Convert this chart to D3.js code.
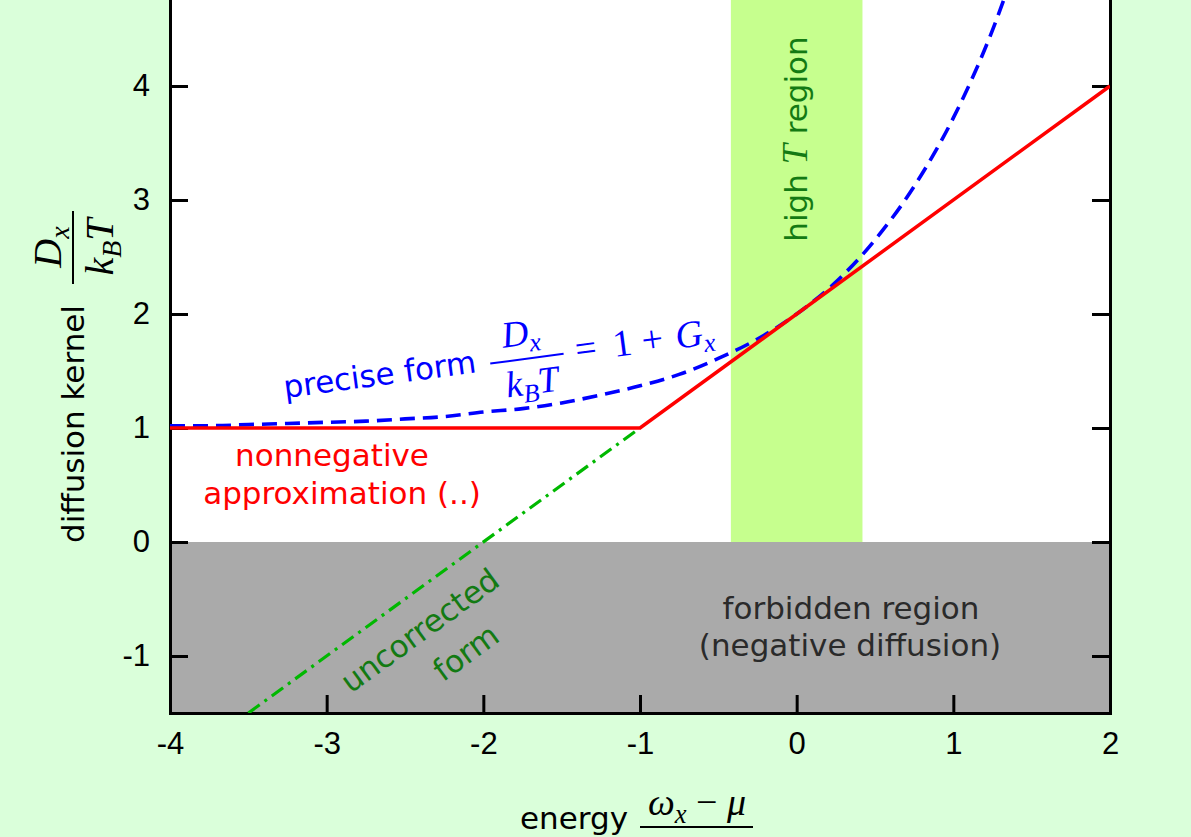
<!DOCTYPE html>
<html>
<head>
<meta charset="utf-8">
<script src="https://cdn.jsdelivr.net/npm/d3@7"></script>
<style>
body { margin: 0; background: #daffda; }
svg { display: block; }
.lbl { font-family: "DejaVu Sans", sans-serif; font-size: 31px; }
.math { font-family: "Liberation Serif", serif; font-style: italic; }
.up { font-family: "Liberation Serif", serif; font-style: normal; }
.axis text { font-family: "Liberation Sans", Arial, sans-serif; font-size: 31px; fill: #000; }
.axis path, .axis line { stroke: #000; stroke-width: 3; }
</style>
</head>
<body>
<svg width="1191" height="837"></svg>
<script>
// tick values
var xTicks = [-4, -3, -2, -1, 0, 1, 2];
var yTicks = [-1, 0, 1, 2, 3, 4];

// precise form (blue dashed)
var preciseX = [-4, -3.75, -3.5, -3.25, -3, -2.75, -2.5, -2.25, -2, -1.75, -1.5, -1.25,
                -1, -0.75, -0.5, -0.25, 0, 0.25, 0.5, 0.75, 1, 1.25, 1.5];
var preciseY = [1.02, 1.02, 1.03, 1.04, 1.05, 1.06, 1.08, 1.1, 1.14, 1.17, 1.22, 1.29,
                1.37, 1.47, 1.61, 1.78, 2.0, 2.28, 2.65, 3.12, 3.72, 4.49, 5.48];

// nonnegative approximation (red)
var approxX = [-4, -1, 2];
var approxY = [1, 1, 4];

// uncorrected form (green dash-dot)
var uncorrX = [-3.5, -1];
var uncorrY = [-1.5, 1];

// shaded regions
var forbiddenY = [-1.5, 0];
var highTX = [-0.42, 0.42];
var highTY = [0, 5];

var svg = d3.select('svg');
var svgWidth = +svg.attr('width');
var svgHeight = +svg.attr('height');

var padding = {t: -28, r: 81, b: 124, l: 170};
var chartWidth = svgWidth - padding.l - padding.r;
var chartHeight = svgHeight - padding.t - padding.b;

var xScale = d3.scaleLinear().domain([-4, 2]).range([0, chartWidth]);
var yScale = d3.scaleLinear().domain([-1.5, 5]).range([chartHeight, 0]);

var chartG = svg.append('g')
    .attr('transform', 'translate(' + [padding.l, padding.t] + ')');

svg.append('clipPath').attr('id', 'plotClip')
    .append('rect').attr('width', chartWidth).attr('height', chartHeight)
    .attr('transform', 'translate(' + [padding.l, padding.t] + ')');

// plot background
chartG.append('rect')
    .attr('width', chartWidth).attr('height', chartHeight)
    .attr('fill', '#fff');

// forbidden region
chartG.append('rect')
    .attr('x', xScale(-4)).attr('width', xScale(2) - xScale(-4))
    .attr('y', yScale(forbiddenY[1])).attr('height', yScale(forbiddenY[0]) - yScale(forbiddenY[1]))
    .attr('fill', '#aaaaaa');

// high T band
chartG.append('rect')
    .attr('x', xScale(highTX[0])).attr('width', xScale(highTX[1]) - xScale(highTX[0]))
    .attr('y', yScale(highTY[1])).attr('height', yScale(highTY[0]) - yScale(highTY[1]))
    .attr('fill', '#c6ff8e');

var line = d3.line()
    .x(function(d) { return xScale(d[0]); })
    .y(function(d) { return yScale(d[1]); });

var linesG = svg.append('g').attr('clip-path', 'url(#plotClip)')
    .append('g').attr('transform', 'translate(' + [padding.l, padding.t] + ')');

linesG.append('path')
    .datum(d3.zip(uncorrX, uncorrY))
    .attr('d', line)
    .attr('fill', 'none').attr('stroke', '#00b800').attr('stroke-width', 3.2)
    .attr('stroke-dasharray', '14,6,3,6');

linesG.append('path')
    .datum(d3.zip(preciseX, preciseY))
    .attr('d', line.curve(d3.curveMonotoneX))
    .attr('fill', 'none').attr('stroke', '#0000ff').attr('stroke-width', 3.6)
    .attr('stroke-dasharray', '15,8');
line.curve(d3.curveLinear);

linesG.append('path')
    .datum(d3.zip(approxX, approxY))
    .attr('d', line)
    .attr('fill', 'none').attr('stroke', '#ff0000').attr('stroke-width', 3.5);

// axes, ticks pointing inward
var fmt = function(d) { return String(d); };
chartG.append('g').attr('class', 'axis')
    .call(d3.axisLeft(yScale).tickValues(yTicks).tickFormat(fmt)
        .tickSize(-18).tickSizeOuter(0).tickPadding(20));
chartG.append('g').attr('class', 'axis')
    .attr('transform', 'translate(' + [chartWidth, 0] + ')')
    .call(d3.axisRight(yScale).tickValues(yTicks).tickFormat('')
        .tickSize(-18).tickSizeOuter(0));
chartG.append('g').attr('class', 'axis')
    .attr('transform', 'translate(' + [0, chartHeight] + ')')
    .call(d3.axisBottom(xScale).tickValues(xTicks).tickFormat(fmt)
        .tickSize(-18).tickSizeOuter(0).tickPadding(19));
svg.selectAll('.axis .domain').attr('stroke-linecap', 'square');

// ---- labels ----
function mathText(g, x, y, parts, size, color) {
    var t = g.append('text').attr('x', x).attr('y', y).attr('text-anchor', 'middle')
        .attr('class', 'math').attr('font-size', size).attr('fill', color);
    parts.forEach(function(part) {
        var s = t.append('tspan').text(part[0]);
        if (part[1] == 'sub') s.attr('font-size', size * 0.7).attr('dy', size * 0.2);
        if (part[1] == 'back') s.attr('dy', -size * 0.2);
        if (part[1] == 'backup') s.attr('dy', -size * 0.2).attr('class', 'up');
    });
    return t;
}
function bar(g, x1, x2, y, color) {
    g.append('line').attr('x1', x1).attr('x2', x2).attr('y1', y).attr('y2', y)
        .attr('stroke', color).attr('stroke-width', 2);
}
var numD = [['D'], ['x', 'sub']];
var denKT = [['k'], ['B', 'sub'], ['T', 'back']];

// y axis label
var yl = svg.append('g').attr('transform', 'translate(84,543) rotate(-90)');
yl.append('text').attr('class', 'lbl').text('diffusion kernel');
bar(yl, 259, 332, -11, '#000');
mathText(yl, 296, -23, numD, 40, '#000');
mathText(yl, 296, 29, denKT, 40, '#000');

// x axis label (denominator lies below the picture)
svg.append('text').attr('class', 'lbl').attr('x', 520).attr('y', 829).text('energy');
bar(svg, 640, 753, 827, '#000');
mathText(svg, 697, 815, [['ω'], ['x', 'sub'], [' − ', 'backup'], ['μ']], 38, '#000');

// precise form
var pl = svg.append('g').attr('transform', 'translate(285,398) rotate(-7.6)');
pl.append('text').attr('class', 'lbl').attr('font-size', 30).attr('fill', '#0000ff').text('precise form');
bar(pl, 208, 282, -7, '#0000ff');
mathText(pl, 242, -21, numD, 37, '#0000ff');
mathText(pl, 247, 29, denKT, 37, '#0000ff');
var eq = pl.append('text').attr('y', 3).attr('fill', '#0000ff').attr('font-size', 38);
eq.append('tspan').attr('class', 'up').attr('x', 294).text('=');
eq.append('tspan').attr('class', 'up').attr('x', 332).text('1');
eq.append('tspan').attr('class', 'up').attr('x', 361).text('+');
eq.append('tspan').attr('class', 'math').attr('x', 395).text('G');
eq.append('tspan').attr('class', 'math').attr('font-size', 26).attr('dy', 7).text('x');

// nonnegative approximation
svg.append('text').attr('class', 'lbl').attr('fill', '#ff0000').attr('text-anchor', 'middle')
    .attr('x', 332).attr('y', 466).text('nonnegative');
svg.append('text').attr('class', 'lbl').attr('fill', '#ff0000').attr('text-anchor', 'middle')
    .attr('x', 342).attr('y', 504).text('approximation (..)');

// high T region
var ht = svg.append('text').attr('class', 'lbl').attr('fill', '#137a13').attr('font-size', 32)
    .attr('text-anchor', 'middle').attr('transform', 'translate(807,139) rotate(-90)');
ht.append('tspan').text('high ');
ht.append('tspan').attr('class', 'math').attr('font-size', 36).text('T');
ht.append('tspan').text(' region');

// uncorrected form
svg.append('text').attr('class', 'lbl').attr('fill', '#137a13').attr('text-anchor', 'middle')
    .attr('transform', 'translate(421,632) rotate(-36)').attr('y', 9).text('uncorrected');
svg.append('text').attr('class', 'lbl').attr('fill', '#137a13').attr('text-anchor', 'middle')
    .attr('transform', 'translate(467,654) rotate(-36)').attr('y', 9).text('form');

// forbidden region
svg.append('text').attr('class', 'lbl').attr('fill', '#2a2a2a').attr('text-anchor', 'middle')
    .attr('x', 851).attr('y', 619).text('forbidden region');
svg.append('text').attr('class', 'lbl').attr('fill', '#2a2a2a').attr('text-anchor', 'middle')
    .attr('x', 850).attr('y', 656).text('(negative diffusion)');
</script>
</body>
</html>
